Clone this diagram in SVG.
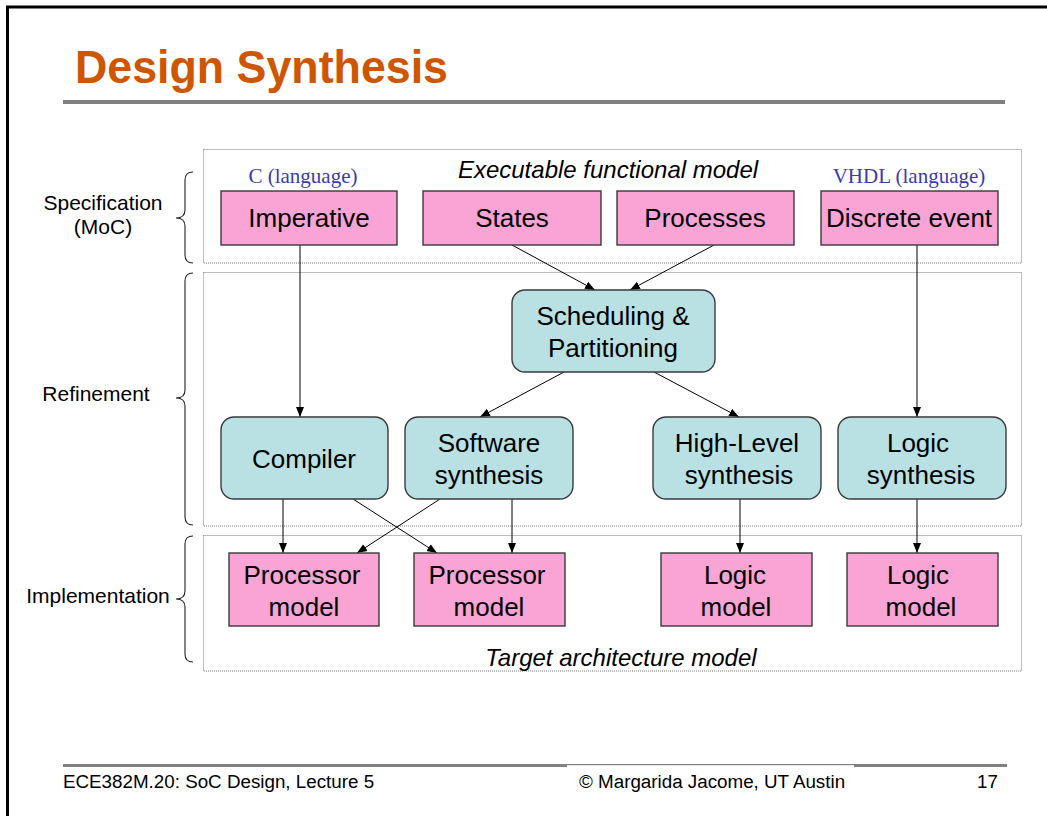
<svg xmlns="http://www.w3.org/2000/svg" width="1047" height="816" viewBox="0 0 1047 816">
  <style>
    .sans { font-family: "Liberation Sans", Arial, sans-serif; }
    .node-text { font-family: "Liberation Sans", Arial, sans-serif; font-size: 26px; fill: #000; text-anchor: middle; }
    .side { font-family: "Liberation Sans", Arial, sans-serif; font-size: 21px; fill: #000; text-anchor: middle; }
    .lang { font-family: "Liberation Serif", "Times New Roman", serif; font-size: 21px; fill: #3b3bab; text-anchor: middle; }
    .caption { font-family: "Liberation Sans", Arial, sans-serif; font-size: 24px; font-style: italic; fill: #000; text-anchor: middle; }
    .pink { fill: #f9a4d4; stroke: #3a3a3a; stroke-width: 1.4; }
    .teal { fill: #b9e0e2; stroke: #3a3a3a; stroke-width: 1.4; }
    .panel { fill: none; stroke: #7a7a7a; stroke-width: 1; stroke-dasharray: 1 1; }
    .brace { fill: none; stroke: #222; stroke-width: 1.1; }
    .edge { fill: none; stroke: #000; stroke-width: 1; marker-end: url(#arrow); }
    .foot { font-family: "Liberation Sans", Arial, sans-serif; font-size: 18.8px; fill: #000; }
  </style>
  <defs>
    <marker id="arrow" markerUnits="userSpaceOnUse" markerWidth="10" markerHeight="10" viewBox="0 0 10 10" refX="10" refY="5" orient="auto">
      <path d="M0,1 L10,5 L0,9 Z" fill="#000"/>
    </marker>
  </defs>

  <rect width="1047" height="816" fill="#fff"/>
  <!-- page frame -->
  <path d="M7.5,816 V7 H1047" fill="none" stroke="#000" stroke-width="3"/>

  <!-- title -->
  <text x="75" y="83" class="sans" font-size="46" font-weight="bold" fill="#cf5600" textLength="373" lengthAdjust="spacingAndGlyphs">Design Synthesis</text>
  <rect x="63" y="100" width="942" height="4" fill="#808080"/>

  <!-- layer panels -->
  <g id="panels">
    <rect class="panel" x="203.5" y="149.5" width="818" height="113.5"/>
    <rect class="panel" x="203.5" y="272.5" width="818" height="253.5"/>
    <rect class="panel" x="203.5" y="535.5" width="818" height="135.5"/>
  </g>

  <!-- layer labels with braces -->
  <g id="layer-spec">
    <path class="brace" d="M193,172 Q185,172 185,180 V210 Q185,218 176,218 Q185,218 185,226 V255 Q185,263 193,263"/>
    <text class="side" x="103" y="210">Specification</text>
    <text class="side" x="103" y="234">(MoC)</text>
  </g>
  <g id="layer-refine">
    <path class="brace" d="M193,273 Q185,273 185,281 V390 Q185,398 176,398 Q185,398 185,406 V517 Q185,525 193,525"/>
    <text class="side" x="96" y="401">Refinement</text>
  </g>
  <g id="layer-impl">
    <path class="brace" d="M193,536 Q185,536 185,544 V591 Q185,599 176,599 Q185,599 185,607 V654 Q185,662 193,662"/>
    <text class="side" x="98" y="603">Implementation</text>
  </g>

  <!-- panel captions -->
  <text class="caption" x="608" y="178">Executable functional model</text>
  <text class="caption" x="621" y="666">Target architecture model</text>
  <text class="lang" x="303" y="183">C (language)</text>
  <text class="lang" x="909" y="183">VHDL (language)</text>

  <!-- connectors -->
  <g id="connectors">
    <line class="edge" x1="300" y1="245" x2="300" y2="417"/>
    <line class="edge" x1="512" y1="245" x2="595" y2="290"/>
    <line class="edge" x1="714" y1="245" x2="630" y2="290"/>
    <line class="edge" x1="564" y1="372" x2="480" y2="417"/>
    <line class="edge" x1="654" y1="372" x2="739" y2="417"/>
    <line class="edge" x1="917" y1="245" x2="917" y2="417"/>
    <line class="edge" x1="283" y1="499" x2="283" y2="553"/>
    <line class="edge" x1="353" y1="499" x2="437" y2="553"/>
    <line class="edge" x1="440" y1="499" x2="357" y2="553"/>
    <line class="edge" x1="512" y1="499" x2="512" y2="553"/>
    <line class="edge" x1="740" y1="499" x2="740" y2="553"/>
    <line class="edge" x1="917" y1="499" x2="917" y2="553"/>
  </g>

  <!-- specification models -->
  <g id="imperative">
    <rect class="pink" x="221" y="191" width="176" height="54"/>
    <text class="node-text" x="309" y="227">Imperative</text>
  </g>
  <g id="states">
    <rect class="pink" x="423" y="191" width="178" height="54"/>
    <text class="node-text" x="512" y="227">States</text>
  </g>
  <g id="processes">
    <rect class="pink" x="617" y="191" width="177" height="54"/>
    <text class="node-text" x="705" y="227">Processes</text>
  </g>
  <g id="discrete-event">
    <rect class="pink" x="821" y="191" width="177" height="54"/>
    <text class="node-text" x="909" y="227">Discrete event</text>
  </g>

  <!-- refinement steps -->
  <g id="scheduling">
    <rect class="teal" x="512" y="290" width="203" height="82" rx="13"/>
    <text class="node-text" x="613" y="325">Scheduling &amp;</text>
    <text class="node-text" x="613" y="357">Partitioning</text>
  </g>
  <g id="compiler">
    <rect class="teal" x="221" y="417" width="167" height="82" rx="13"/>
    <text class="node-text" x="304" y="468">Compiler</text>
  </g>
  <g id="software-synthesis">
    <rect class="teal" x="405" y="417" width="168" height="82" rx="13"/>
    <text class="node-text" x="489" y="452">Software</text>
    <text class="node-text" x="489" y="484">synthesis</text>
  </g>
  <g id="high-level-synthesis">
    <rect class="teal" x="653" y="417" width="168" height="82" rx="13"/>
    <text class="node-text" x="737" y="452">High-Level</text>
    <text class="node-text" x="739" y="484">synthesis</text>
  </g>
  <g id="logic-synthesis">
    <rect class="teal" x="838" y="417" width="168" height="82" rx="13"/>
    <text class="node-text" x="918" y="452">Logic</text>
    <text class="node-text" x="921" y="484">synthesis</text>
  </g>

  <!-- target architecture models -->
  <g id="processor-model-1">
    <rect class="pink" x="229" y="553" width="150" height="73"/>
    <text class="node-text" x="302" y="584">Processor</text>
    <text class="node-text" x="304" y="616">model</text>
  </g>
  <g id="processor-model-2">
    <rect class="pink" x="414" y="553" width="151" height="73"/>
    <text class="node-text" x="487" y="584">Processor</text>
    <text class="node-text" x="489" y="616">model</text>
  </g>
  <g id="logic-model-1">
    <rect class="pink" x="661" y="553" width="151" height="73"/>
    <text class="node-text" x="735" y="584">Logic</text>
    <text class="node-text" x="736" y="616">model</text>
  </g>
  <g id="logic-model-2">
    <rect class="pink" x="847" y="553" width="151" height="73"/>
    <text class="node-text" x="918" y="584">Logic</text>
    <text class="node-text" x="921" y="616">model</text>
  </g>

  <!-- footer -->
  <rect x="63" y="764" width="944" height="3" fill="#808080"/>
  <rect x="567" y="765.2" width="287" height="2.5" fill="#fff"/>
  <text class="foot" x="63" y="788">ECE382M.20: SoC Design, Lecture 5</text>
  <text class="foot" x="579" y="788">© Margarida Jacome, UT Austin</text>
  <text class="foot" x="977" y="788">17</text>
</svg>
